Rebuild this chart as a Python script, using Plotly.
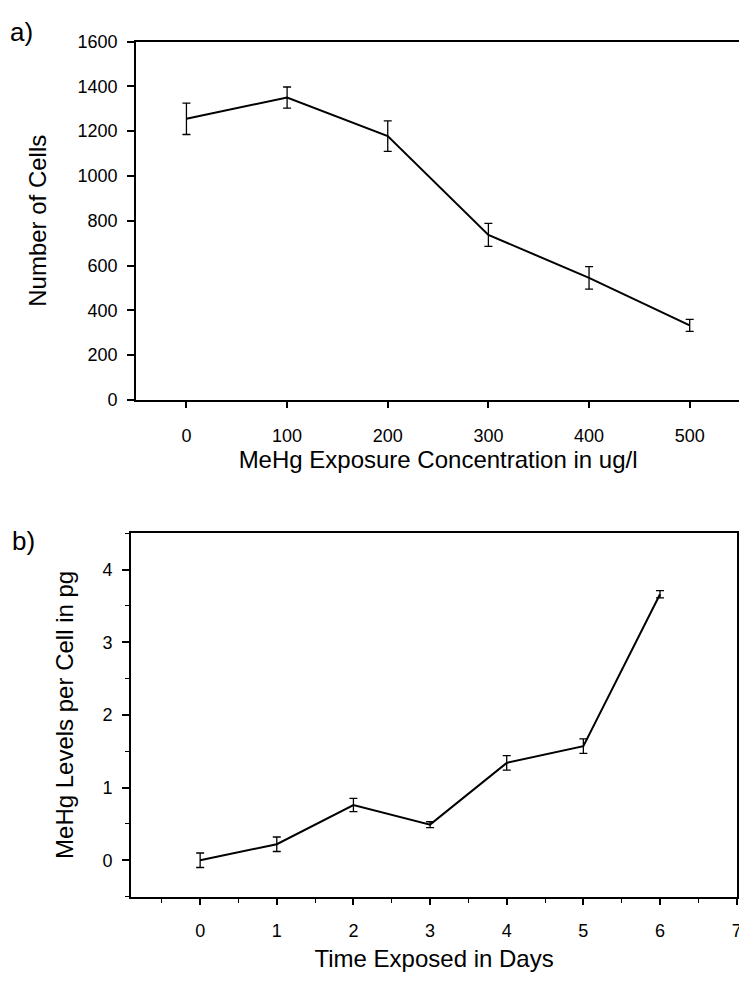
import plotly.graph_objects as go

# Panel a
conc = [0, 100, 200, 300, 400, 500]
cells = [1255, 1350, 1178, 737, 545, 333]
cells_err = [70, 47, 68, 51, 50, 27]

# Panel b
days = [0, 1, 2, 3, 4, 5, 6]
day_ticks = [0, 1, 2, 3, 4, 5, 6, 7]
mehg = [0.0, 0.22, 0.76, 0.49, 1.34, 1.57, 3.66]
mehg_err = [0.10, 0.10, 0.09, 0.04, 0.10, 0.10, 0.05]

# page has an 8px body margin: figure fills the window from (8, 8)
W, H = 739, 974
OFF = 8
FONT = "Arial, Liberation Sans, sans-serif"


def px(x):
    return (x - OFF) / W


def py(y):
    return 1 - (y - OFF) / H


fig = go.Figure()
fig.add_trace(go.Scatter(
    x=conc, y=cells, mode="lines", line=dict(color="black", width=2),
    error_y=dict(type="data", array=cells_err, visible=True, color="black", thickness=1.3, width=4),
    xaxis="x", yaxis="y", showlegend=False))
fig.add_trace(go.Scatter(
    x=days, y=mehg, mode="lines", line=dict(color="black", width=2),
    error_y=dict(type="data", array=mehg_err, visible=True, color="black", thickness=1.3, width=4),
    xaxis="x2", yaxis="y2", showlegend=False))

axis_common = dict(showline=True, linecolor="black", linewidth=2, mirror=True,
                   showgrid=False, zeroline=False, ticks="outside", tickcolor="black",
                   ticklabeloverflow="allow",
                   tickfont=dict(family=FONT, size=18, color="black"))

fig.update_layout(
    width=W, height=H,
    margin=dict(l=0, r=0, t=0, b=0),
    plot_bgcolor="white", paper_bgcolor="white",
    font=dict(family=FONT, color="black"),
    xaxis=dict(domain=[px(137), px(745)], range=[-50, 550], tickvals=conc,
               ticklen=6, tickwidth=1.5, ticklabelstandoff=12, anchor="y",
               title=dict(text="MeHg Exposure Concentration in ug/l", font=dict(size=24, family=FONT), standoff=4),
               **axis_common),
    yaxis=dict(domain=[py(398), py(32)], range=[0, 1600], dtick=200,
               ticklen=7, tickwidth=1.5, ticklabelstandoff=6, anchor="x",
               title=dict(text="Number of Cells", font=dict(size=24, family=FONT), standoff=24),
               **axis_common),
    xaxis2=dict(domain=[px(132), px(742)], range=[-0.9, 7.005], tickvals=day_ticks,
                ticklen=6, tickwidth=1.5, ticklabelstandoff=11, anchor="y2",
                minor=dict(dtick=0.5, ticks="outside", ticklen=4, tickcolor="black", tickwidth=1.2),
                title=dict(text="Time Exposed in Days", font=dict(size=24, family=FONT), standoff=10),
                **axis_common),
    yaxis2=dict(domain=[py(905), py(534)], range=[-0.5, 4.5], dtick=1,
                ticklen=7, tickwidth=1.5, ticklabelstandoff=6, anchor="x2",
                minor=dict(dtick=0.5, ticks="outside", ticklen=4, tickcolor="black", tickwidth=1.2),
                title=dict(text="MeHg Levels per Cell in pg", font=dict(size=24, family=FONT), standoff=22),
                **axis_common),
    annotations=[
        dict(text="a)", x=px(8), y=py(22), xref="paper", yref="paper", xanchor="left", yanchor="middle",
             showarrow=False, font=dict(size=26, family=FONT, color="black")),
        dict(text="b)", x=px(10), y=py(542), xref="paper", yref="paper", xanchor="left", yanchor="middle",
             showarrow=False, font=dict(size=26, family=FONT, color="black")),
    ],
)

fig.write_html("out.html")
